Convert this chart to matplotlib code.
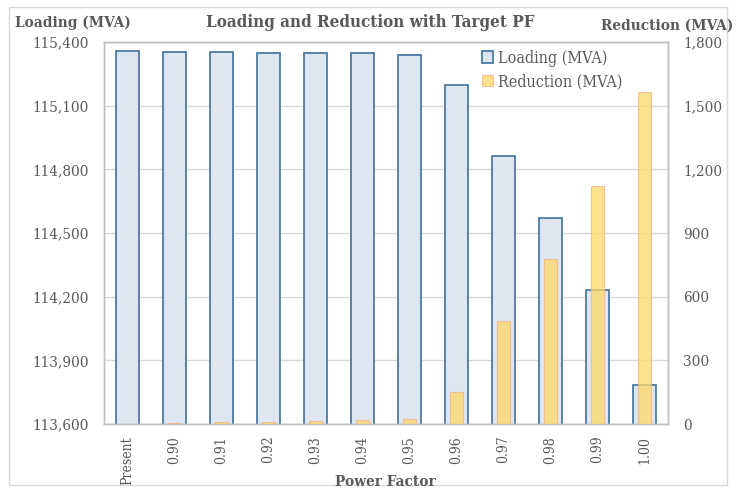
import numpy as np
import matplotlib
matplotlib.use('Agg')
import matplotlib.pyplot as plt
from matplotlib.patches import Rectangle

# Data
categories = ['Present', '0.90', '0.91', '0.92', '0.93', '0.94', '0.95',
              '0.96', '0.97', '0.98', '0.99', '1.00']
loading = [115359, 115354, 115351, 115350, 115349, 115347, 115341,
           115199, 114863, 114573, 114231, 113786]
reduction = [0, 5, 8, 10, 12, 17, 24, 152, 487, 776, 1121, 1564]

left_ticks = [113600, 113900, 114200, 114500, 114800, 115100, 115400]
right_ticks = [0, 300, 600, 900, 1200, 1500, 1800]

plt.rcParams['font.family'] = ['DejaVu Serif']
plt.rcParams['font.stretch'] = 'condensed'
grey = '#595959'

fig = plt.figure(figsize=(7.37, 4.92), dpi=100)
fig.patches.append(Rectangle((9 / 737, 7 / 492), 718 / 737, 478 / 492,
                             transform=fig.transFigure, fill=False,
                             edgecolor='#D9D9D9', linewidth=1))

ax1 = fig.add_axes([0.1411, 0.1382, 0.7653, 0.7764])
ax2 = ax1.twinx()

x = np.arange(len(categories))
ax1.bar(x, loading, width=0.5, color='#DEE6F2', edgecolor='#41719C',
        linewidth=1.2, label='Loading (MVA)', zorder=2)
ax2.bar(x, reduction, width=0.26, color='#FFD966', alpha=0.75,
        edgecolor='#F4B183', linewidth=0.8, label='Reduction (MVA)', zorder=3)

ax1.set_ylim(113600, 115400)
ax1.set_yticks(left_ticks)
ax1.set_yticklabels([f'{v:,}' for v in left_ticks])
ax2.set_ylim(0, 1800)
ax2.set_yticks(right_ticks)
ax2.set_yticklabels([f'{v:,}' for v in right_ticks])
ax1.set_xlim(-0.5, len(categories) - 0.5)
ax1.set_xticks(x)
ax1.set_xticklabels(categories, rotation=90)

ax1.grid(axis='y', color='#D9D9D9', linewidth=1, zorder=0)
ax1.set_axisbelow(True)
for ax in (ax1, ax2):
    ax.tick_params(axis='y', length=0, labelsize=11, colors=grey, pad=11)
    for s in ax.spines.values():
        s.set_color('#BFBFBF')
        s.set_linewidth(1)
ax1.tick_params(axis='x', length=0, labelsize=10, colors=grey, pad=8.5)

fig.text(0.503, 0.955, 'Loading and Reduction with Target PF', ha='center',
         va='center', fontsize=12.2, fontweight='bold', color=grey)
fig.text(0.02, 0.953, 'Loading (MVA)', ha='left', va='center',
         fontsize=11, fontweight='bold', color=grey)
fig.text(0.995, 0.947, 'Reduction (MVA)', ha='right', va='center',
         fontsize=11, fontweight='bold', color=grey)
fig.text(0.523, 0.02, 'Power Factor', ha='center', va='center',
         fontsize=11, fontweight='bold', color=grey)

h1, l1 = ax1.get_legend_handles_labels()
h2, l2 = ax2.get_legend_handles_labels()
leg = ax2.legend(h1 + h2, l1 + l2, loc='upper right', bbox_to_anchor=(0.945, 1.018),
                 frameon=False, fontsize=11.5, handlelength=0.7, handleheight=0.7,
                 handletextpad=0.3, labelspacing=0.4, labelcolor=grey)

fig.savefig('out.png', dpi=100)
